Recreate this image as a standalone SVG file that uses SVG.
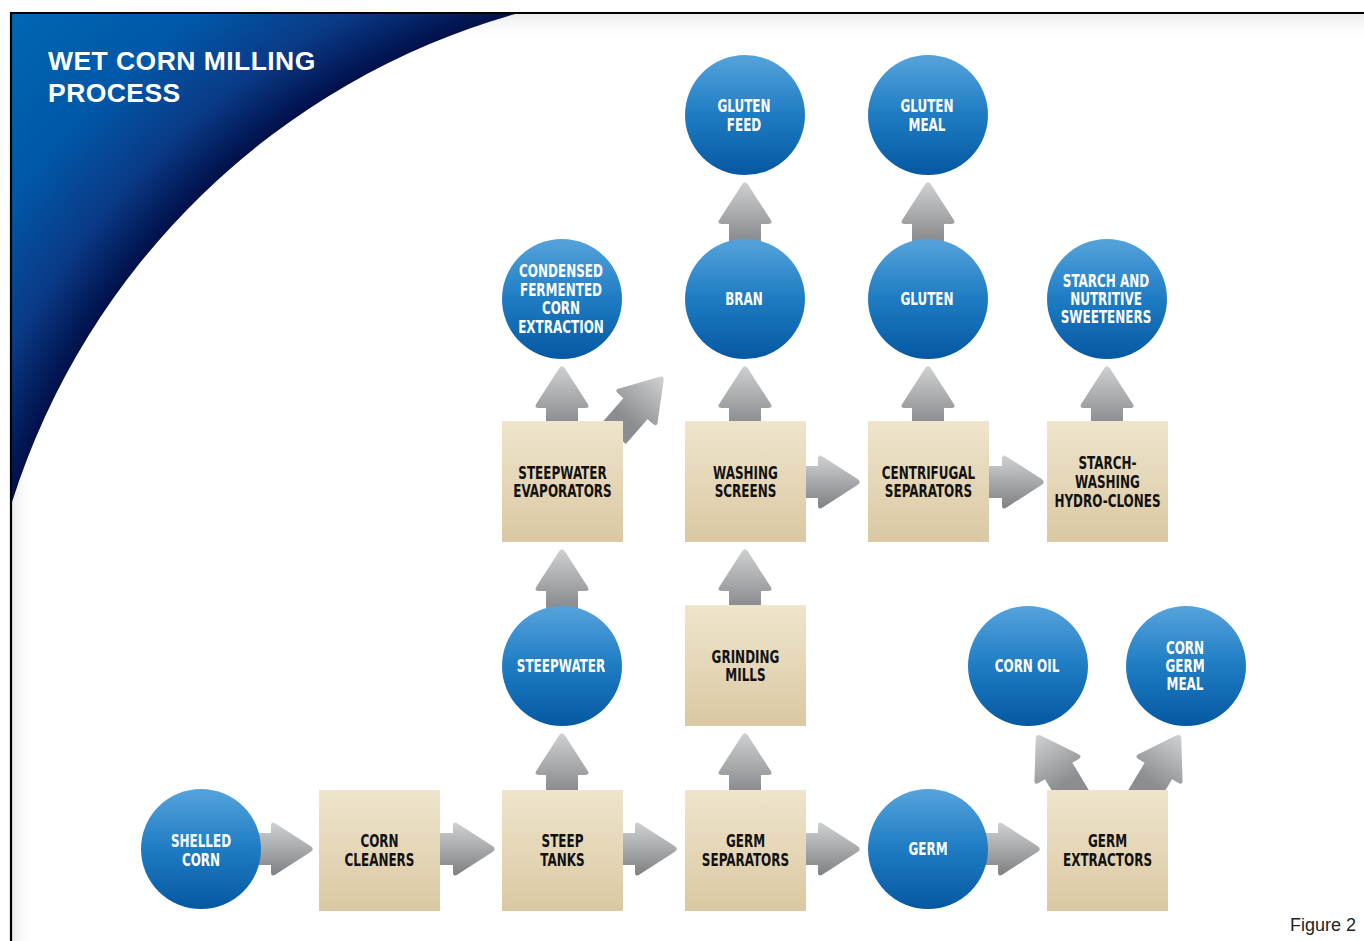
<svg xmlns="http://www.w3.org/2000/svg" xmlns:xlink="http://www.w3.org/1999/xlink" width="1364" height="941" viewBox="0 0 1364 941">
<defs>
<radialGradient id="gBlue" gradientUnits="userSpaceOnUse" cx="717" cy="726" r="1000">
<stop offset="0.74" stop-color="#00104a"/>
<stop offset="0.80" stop-color="#0a3a86"/>
<stop offset="0.88" stop-color="#0058a8"/>
<stop offset="1" stop-color="#0066b3"/>
</radialGradient>
<linearGradient id="gTop" x1="0" y1="0" x2="0" y2="1">
<stop offset="0" stop-color="#ebebeb"/>
<stop offset="1" stop-color="#ffffff" stop-opacity="0"/>
</linearGradient>
<linearGradient id="gLeft" x1="0" y1="0" x2="1" y2="0">
<stop offset="0" stop-color="#ebebeb"/>
<stop offset="1" stop-color="#ffffff" stop-opacity="0"/>
</linearGradient>
<linearGradient id="gCircle" x1="0" y1="0" x2="0" y2="1">
<stop offset="0" stop-color="#56a3db"/>
<stop offset="0.5" stop-color="#1e7cc3"/>
<stop offset="1" stop-color="#0558a2"/>
</linearGradient>
<linearGradient id="gBox" x1="0" y1="0" x2="0" y2="1">
<stop offset="0" stop-color="#efe5cc"/>
<stop offset="1" stop-color="#dac8a3"/>
</linearGradient>
<linearGradient id="gArrUp" x1="0" y1="0" x2="0" y2="1">
<stop offset="0" stop-color="#cfd0d2"/>
<stop offset="0.75" stop-color="#8c8d90"/>
</linearGradient>
<linearGradient id="gArrR" x1="0" y1="0" x2="0" y2="1">
<stop offset="0" stop-color="#d0d1d3"/>
<stop offset="1" stop-color="#7f8083"/>
</linearGradient>
<path id="aUp" fill="url(#gArrUp)" d="M-16,75 L-16,42 L-23,42 Q-28.5,42 -25.5,37.5 L-3,2.5 Q0,-2 3,2.5 L25.5,37.5 Q28.5,42 23,42 L16,42 L16,75 Z"/>
<path id="aRight" fill="url(#gArrR)" d="M-75,-16 L-42,-16 L-42,-23 Q-42,-28.5 -37.5,-25.5 L-2.5,-3 Q2,0 -2.5,3 L-37.5,25.5 Q-42,28.5 -42,23 L-42,16 L-75,16 Z"/>
</defs>
<style>
.circ { fill: url(#gCircle); }
.box { fill: url(#gBox); }
.w { fill: #ffffff; font-family: "Liberation Sans Narrow", "DejaVu Sans Condensed", "Liberation Sans", sans-serif; font-weight: bold; font-size: 18px; text-anchor: middle; }
.k { fill: #111111; font-family: "Liberation Sans Narrow", "DejaVu Sans Condensed", "Liberation Sans", sans-serif; font-weight: bold; font-size: 18px; text-anchor: middle; }
.title { fill: #ffffff; font-family: "Liberation Sans", Arial, sans-serif; font-weight: bold; font-size: 26.5px; letter-spacing: 0.45px; }
.fig { fill: #222222; font-family: "Liberation Sans", Arial, sans-serif; font-size: 18px; text-anchor: end; }
</style>

<g id="background">
<rect x="0" y="0" width="1364" height="941" fill="#ffffff"/>
<rect x="12" y="14" width="1352" height="28" fill="url(#gTop)"/>
<rect x="12" y="14" width="22" height="927" fill="url(#gLeft)"/>
<path d="M12,14 L515,14 A740,740 0 0 0 12,502 Z" fill="url(#gBlue)"/>
<line x1="10" y1="13" x2="1364" y2="13" stroke="#000" stroke-width="2.2"/>
<line x1="11" y1="12" x2="11" y2="941" stroke="#000" stroke-width="2.2"/>
<text class="title" x="48" y="70">WET CORN MILLING</text>
<text class="title" x="48" y="102">PROCESS</text>
<text class="fig" x="1356" y="931">Figure 2</text>
</g>

<g id="connectors">
<use xlink:href="#aRight" transform="translate(313,849)"/>
<use xlink:href="#aRight" transform="translate(495,849)"/>
<use xlink:href="#aRight" transform="translate(677,849)"/>
<use xlink:href="#aRight" transform="translate(860,849)"/>
<use xlink:href="#aRight" transform="translate(1040,849)"/>
<use xlink:href="#aRight" transform="translate(860,482)"/>
<use xlink:href="#aRight" transform="translate(1044,482)"/>
<use xlink:href="#aUp" transform="translate(562,733)"/>
<use xlink:href="#aUp" transform="translate(745,733)"/>
<use xlink:href="#aUp" transform="translate(562,549)"/>
<use xlink:href="#aUp" transform="translate(745,549)"/>
<use xlink:href="#aUp" transform="translate(562,366)"/>
<use xlink:href="#aUp" transform="translate(745,366)"/>
<use xlink:href="#aUp" transform="translate(928,366)"/>
<use xlink:href="#aUp" transform="translate(1107,366)"/>
<use xlink:href="#aUp" transform="translate(745,182)"/>
<use xlink:href="#aUp" transform="translate(928,182)"/>
<use xlink:href="#aUp" transform="translate(663,377) rotate(41)"/>
<use xlink:href="#aUp" transform="translate(1037,735) rotate(-31)"/>
<use xlink:href="#aUp" transform="translate(1180,735) rotate(31)"/>
</g>

<g id="shelled-corn">
<circle class="circ" cx="201" cy="849" r="60"/>
<text class="w" transform="translate(201 0) scale(0.74 1)" y="847">SHELLED</text>
<text class="w" transform="translate(201 0) scale(0.74 1)" y="866">CORN</text>
</g>
<g id="corn-cleaners">
<rect class="box" x="319" y="790" width="121" height="121"/>
<text class="k" transform="translate(379.5 0) scale(0.74 1)" y="847">CORN</text>
<text class="k" transform="translate(379.5 0) scale(0.74 1)" y="866">CLEANERS</text>
</g>
<g id="steep-tanks">
<rect class="box" x="502" y="790" width="121" height="121"/>
<text class="k" transform="translate(562.5 0) scale(0.74 1)" y="847">STEEP</text>
<text class="k" transform="translate(562.5 0) scale(0.74 1)" y="866">TANKS</text>
</g>
<g id="germ-separators">
<rect class="box" x="685" y="790" width="121" height="121"/>
<text class="k" transform="translate(745.5 0) scale(0.74 1)" y="847">GERM</text>
<text class="k" transform="translate(745.5 0) scale(0.74 1)" y="866">SEPARATORS</text>
</g>
<g id="germ">
<circle class="circ" cx="928" cy="849" r="60"/>
<text class="w" transform="translate(928 0) scale(0.74 1)" y="855.5">GERM</text>
</g>
<g id="germ-extractors">
<rect class="box" x="1047" y="790" width="121" height="121"/>
<text class="k" transform="translate(1107.5 0) scale(0.74 1)" y="847">GERM</text>
<text class="k" transform="translate(1107.5 0) scale(0.74 1)" y="866">EXTRACTORS</text>
</g>
<g id="steepwater">
<circle class="circ" cx="562" cy="666" r="60"/>
<text class="w" transform="translate(561 0) scale(0.74 1)" y="672.5">STEEPWATER</text>
</g>
<g id="grinding-mills">
<rect class="box" x="685" y="605" width="121" height="121"/>
<text class="k" transform="translate(745.5 0) scale(0.74 1)" y="663">GRINDING</text>
<text class="k" transform="translate(745.5 0) scale(0.74 1)" y="681.5">MILLS</text>
</g>
<g id="corn-oil">
<circle class="circ" cx="1028" cy="666" r="60"/>
<text class="w" transform="translate(1027 0) scale(0.74 1)" y="672.5">CORN OIL</text>
</g>
<g id="corn-germ-meal">
<circle class="circ" cx="1186" cy="666" r="60"/>
<text class="w" transform="translate(1185 0) scale(0.74 1)" y="654.5">CORN</text>
<text class="w" transform="translate(1185 0) scale(0.74 1)" y="672.5">GERM</text>
<text class="w" transform="translate(1185 0) scale(0.74 1)" y="690.5">MEAL</text>
</g>
<g id="steepwater-evaporators">
<rect class="box" x="502" y="421" width="121" height="121"/>
<text class="k" transform="translate(562.5 0) scale(0.74 1)" y="479.5">STEEPWATER</text>
<text class="k" transform="translate(562.5 0) scale(0.74 1)" y="497.5">EVAPORATORS</text>
</g>
<g id="washing-screens">
<rect class="box" x="685" y="421" width="121" height="121"/>
<text class="k" transform="translate(745.5 0) scale(0.74 1)" y="479.5">WASHING</text>
<text class="k" transform="translate(745.5 0) scale(0.74 1)" y="497.5">SCREENS</text>
</g>
<g id="centrifugal-separators">
<rect class="box" x="868" y="421" width="121" height="121"/>
<text class="k" transform="translate(928.5 0) scale(0.74 1)" y="479.5">CENTRIFUGAL</text>
<text class="k" transform="translate(928.5 0) scale(0.74 1)" y="497.5">SEPARATORS</text>
</g>
<g id="starch-washing-hydro-clones">
<rect class="box" x="1047" y="421" width="121" height="121"/>
<text class="k" transform="translate(1107.5 0) scale(0.74 1)" y="469.5">STARCH-</text>
<text class="k" transform="translate(1107.5 0) scale(0.74 1)" y="488.5">WASHING</text>
<text class="k" transform="translate(1107.5 0) scale(0.74 1)" y="507.5">HYDRO-CLONES</text>
</g>
<g id="condensed-fermented-corn-extraction">
<circle class="circ" cx="562" cy="299" r="60"/>
<text class="w" transform="translate(561 0) scale(0.74 1)" y="277.5">CONDENSED</text>
<text class="w" transform="translate(561 0) scale(0.74 1)" y="296">FERMENTED</text>
<text class="w" transform="translate(561 0) scale(0.74 1)" y="314.5">CORN</text>
<text class="w" transform="translate(561 0) scale(0.74 1)" y="333">EXTRACTION</text>
</g>
<g id="bran">
<circle class="circ" cx="745" cy="299" r="60"/>
<text class="w" transform="translate(744 0) scale(0.74 1)" y="305.5">BRAN</text>
</g>
<g id="gluten">
<circle class="circ" cx="928" cy="299" r="60"/>
<text class="w" transform="translate(927 0) scale(0.74 1)" y="305.5">GLUTEN</text>
</g>
<g id="starch-and-nutritive-sweeteners">
<circle class="circ" cx="1107" cy="299" r="60"/>
<text class="w" transform="translate(1106 0) scale(0.74 1)" y="287">STARCH AND</text>
<text class="w" transform="translate(1106 0) scale(0.74 1)" y="305.5">NUTRITIVE</text>
<text class="w" transform="translate(1106 0) scale(0.74 1)" y="323.5">SWEETENERS</text>
</g>
<g id="gluten-feed">
<circle class="circ" cx="745" cy="115" r="60"/>
<text class="w" transform="translate(744 0) scale(0.74 1)" y="112.5">GLUTEN</text>
<text class="w" transform="translate(744 0) scale(0.74 1)" y="131">FEED</text>
</g>
<g id="gluten-meal">
<circle class="circ" cx="928" cy="115" r="60"/>
<text class="w" transform="translate(927 0) scale(0.74 1)" y="112.5">GLUTEN</text>
<text class="w" transform="translate(927 0) scale(0.74 1)" y="131">MEAL</text>
</g>
</svg>
